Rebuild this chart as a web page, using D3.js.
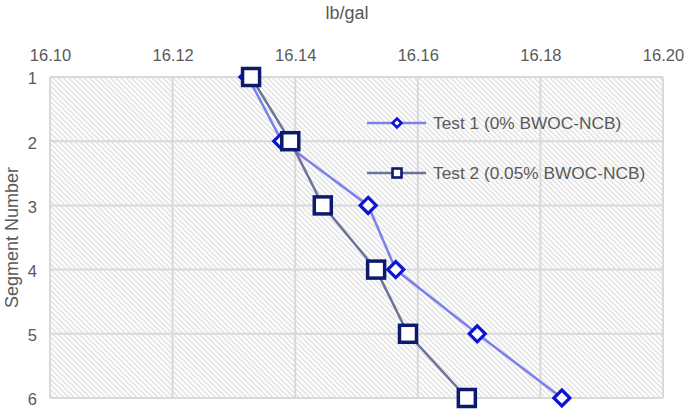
<!DOCTYPE html>
<html>
<head>
<meta charset="utf-8">
<script src="https://cdn.jsdelivr.net/npm/d3@7"></script>
<style>
  html, body { margin: 0; padding: 0; background: #fff; }
  svg { display: block; font-family: "Liberation Sans", Arial, Helvetica, sans-serif; }
</style>
</head>
<body>
<svg id="chart" width="685" height="410"></svg>
<script>
const segments = [1, 2, 3, 4, 5, 6];
const test1 = [16.1323, 16.1378, 16.1519, 16.1564, 16.1697, 16.1835];
const test2 = [16.1328, 16.1392, 16.1445, 16.1532, 16.1584, 16.1680];
const xTicks = [16.10, 16.12, 16.14, 16.16, 16.18, 16.20];
const seriesNames = ["Test 1 (0% BWOC-NCB)", "Test 2 (0.05% BWOC-NCB)"];

const svg = d3.select("#chart");
const L = 50, R = 663, T = 77, B = 398;
const x = d3.scaleLinear().domain([16.10, 16.20]).range([L, R]);
const y = d3.scaleLinear().domain([1, 6]).range([T, B]);
const textColor = "#595959";

// hatch pattern
const defs = svg.append("defs");
const pat = defs.append("pattern")
  .attr("id", "hatch")
  .attr("patternUnits", "userSpaceOnUse")
  .attr("width", 3.7).attr("height", 10)
  .attr("patternTransform", "rotate(-45)");
pat.append("rect").attr("width", 3.7).attr("height", 10).attr("fill", "#fff");
pat.append("line").attr("x1", 0.8).attr("y1", 0).attr("x2", 0.8).attr("y2", 10)
  .attr("stroke", "#d6d6d6").attr("stroke-width", 1.1);

svg.append("rect").attr("x", L).attr("y", T).attr("width", R - L).attr("height", B - T)
  .attr("fill", "url(#hatch)");

// gridlines
const grid = svg.append("g").attr("stroke", "#d9d9d9").attr("stroke-width", 2);
grid.selectAll("line.v").data(xTicks).join("line")
  .attr("x1", d => x(d)).attr("x2", d => x(d)).attr("y1", T).attr("y2", B);
grid.selectAll("line.h").data(segments).join("line")
  .attr("x1", L).attr("x2", R).attr("y1", d => y(d)).attr("y2", d => y(d));

// axes
const xAxis = svg.append("g").attr("transform", `translate(0,${T})`)
  .call(d3.axisTop(x).tickValues(xTicks).tickFormat(d3.format(".2f")).tickSize(0).tickPadding(16));
xAxis.select(".domain").remove();
xAxis.selectAll("text").attr("fill", textColor).style("font-size", "16.5px");

const yAxis = svg.append("g").attr("transform", `translate(${L},0)`)
  .call(d3.axisLeft(y).tickValues(segments).tickFormat(d3.format("d")).tickSize(0).tickPadding(13));
yAxis.select(".domain").remove();
yAxis.selectAll("text").attr("fill", textColor).style("font-size", "16.5px").attr("dy", "0.42em");

// titles
svg.append("text").attr("x", 347).attr("y", 19).attr("text-anchor", "middle")
  .attr("fill", textColor).style("font-size", "18px").text("lb/gal");
svg.append("text").attr("transform", `translate(18,${(T + B) / 2}) rotate(-90)`)
  .attr("text-anchor", "middle").attr("fill", textColor).style("font-size", "18px")
  .text("Segment Number");

const line = d3.line().x(d => x(d[0])).y(d => y(d[1]));
const d1 = segments.map((s, i) => [test1[i], s]);
const d2 = segments.map((s, i) => [test2[i], s]);

const c1Line = "#7b80ea", c1Mark = "#0a14d2";
const c2Line = "#6c7398", c2Mark = "#0c1a6e";

svg.append("path").datum(d1).attr("d", line).attr("fill", "none")
  .attr("stroke", c1Line).attr("stroke-width", 2.5);
svg.append("path").datum(d2).attr("d", line).attr("fill", "none")
  .attr("stroke", c2Line).attr("stroke-width", 2.5);

const diamond = (cx, cy, r) => `M${cx},${cy - r}L${cx + r},${cy}L${cx},${cy + r}L${cx - r},${cy}Z`;

svg.append("g").selectAll("path").data(d1).join("path")
  .attr("d", d => diamond(x(d[0]), y(d[1]), 8))
  .attr("fill", "#fff").attr("stroke", c1Mark).attr("stroke-width", 3.2);

svg.append("g").selectAll("rect").data(d2).join("rect")
  .attr("x", d => x(d[0]) - 8.5).attr("y", d => y(d[1]) - 8.5)
  .attr("width", 17).attr("height", 17)
  .attr("fill", "#fff").attr("stroke", c2Mark).attr("stroke-width", 3.5);

// legend
const lg = svg.append("g");
const ly = [123, 173];
lg.append("line").attr("x1", 367).attr("x2", 426).attr("y1", ly[0]).attr("y2", ly[0])
  .attr("stroke", c1Line).attr("stroke-width", 2.5);
lg.append("path").attr("d", diamond(397, ly[0], 4.5)).attr("fill", "#fff")
  .attr("stroke", c1Mark).attr("stroke-width", 2.6);
lg.append("line").attr("x1", 367).attr("x2", 426).attr("y1", ly[1]).attr("y2", ly[1])
  .attr("stroke", c2Line).attr("stroke-width", 2.5);
lg.append("rect").attr("x", 397 - 4.5).attr("y", ly[1] - 4.5).attr("width", 9).attr("height", 9)
  .attr("fill", "#fff").attr("stroke", c2Mark).attr("stroke-width", 2.6);
lg.selectAll("text").data(seriesNames).join("text")
  .attr("x", 433).attr("y", (d, i) => ly[i]).attr("dy", "0.36em")
  .attr("fill", textColor).style("font-size", "17.3px").text(d => d);
</script>
</body>
</html>
